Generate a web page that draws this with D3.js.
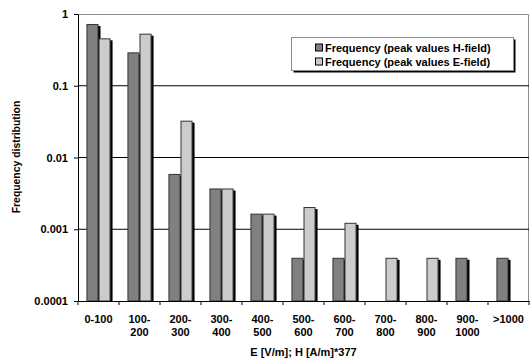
<!DOCTYPE html>
<html>
<head>
<meta charset="utf-8">
<script src="https://cdnjs.cloudflare.com/ajax/libs/d3/7.8.5/d3.min.js"></script>
<style>
  body { margin: 0; background: #fff; }
  text { font-family: "Liberation Sans", Arial, sans-serif; font-weight: bold; fill: #000; }
</style>
</head>
<body>
<div class="svg-container"></div>
<script>
// categories (two-line tick labels)
const categories = ["0-100", "100-200", "200-300", "300-400", "400-500", "500-600",
                    "600-700", "700-800", "800-900", "900-1000", ">1000"];
const hField = [0.726, 0.292, 0.0059, 0.0037, 0.00165, 0.0004, 0.0004, null, null, 0.0004, 0.0004];
const eField = [0.458, 0.532, 0.0326, 0.0037, 0.00165, 0.00204, 0.00123, 0.0004, 0.0004, null, null];
const seriesNames = ["Frequency (peak values H-field)", "Frequency (peak values E-field)"];
const yTicks = [1, 0.1, 0.01, 0.001, 0.0001];
const yTickLabels = ["1", "0.1", "0.01", "0.001", "0.0001"];

const W = 531, H = 358;
const margin = {top: 14, right: 2, bottom: 57, left: 78};
const width = W - margin.left - margin.right;
const height = H - margin.top - margin.bottom;

const svg = d3.select('.svg-container')
    .append('svg')
    .attr('width', W)
    .attr('height', H);

const g = svg.append('g')
    .attr('transform', `translate(${margin.left}, ${margin.top})`);

const x = d3.scaleBand()
    .domain(categories)
    .range([0, width])
    .padding(0);

const x1 = d3.scaleBand()
    .domain(["H", "E"])
    .range([0, x.bandwidth()])
    .paddingInner(0)
    .paddingOuter(0.7);

const y = d3.scaleLog()
    .domain([0.0001, 1])
    .range([height, 0]);

const colors = {H: "#808080", E: "#cccccc"};

// plot border (top/right gray)
g.append("path")
    .attr("d", `M0,0.5H${width - 0.5}V${height}`)
    .attr("fill", "none")
    .attr("stroke", "#8c8c8c");

// gridlines
g.selectAll(".grid")
  .data(yTicks.slice(1, 4))
  .enter().append("line")
    .attr("class", "grid")
    .attr("x1", 0)
    .attr("x2", width)
    .attr("y1", d => y(d))
    .attr("y2", d => y(d))
    .attr("stroke", "#000")
    .attr("stroke-width", 1);

const rows = categories.map((c, i) => [
  {key: "H", cat: c, v: hField[i]},
  {key: "E", cat: c, v: eField[i]}
]).flat().filter(d => d.v != null);

// shadows
g.selectAll(".shadow")
  .data(rows)
  .enter().append("rect")
    .attr("class", "shadow")
    .attr("x", d => x(d.cat) + x1(d.key) + 2)
    .attr("y", d => y(d.v) + 2)
    .attr("width", x1.bandwidth())
    .attr("height", d => height - y(d.v) - 2)
    .attr("fill", "#000");

g.selectAll(".bar")
  .data(rows)
  .enter().append("rect")
    .attr("class", "bar")
    .attr("x", d => x(d.cat) + x1(d.key) + 0.5)
    .attr("y", d => y(d.v) + 0.5)
    .attr("width", x1.bandwidth() - 1)
    .attr("height", d => height - y(d.v) - 0.5)
    .attr("fill", d => colors[d.key])
    .attr("stroke", "#333")
    .attr("stroke-width", 1);

// y axis
const yAxis = g.append("g")
    .call(d3.axisLeft(y).tickValues(yTicks)
      .tickFormat((d, i) => yTickLabels[i])
      .tickSize(4).tickSizeOuter(0).tickPadding(6));
yAxis.select(".domain").attr("stroke", "#000");
yAxis.selectAll("text").style("font-size", "11px");

// x axis
const xAxis = g.append("g")
    .attr("transform", `translate(0,${height})`)
    .call(d3.axisBottom(x).tickSize(0).tickSizeOuter(0).tickPadding(0));
xAxis.select(".domain").attr("stroke", "#000");
xAxis.selectAll(".tick text").remove();
xAxis.selectAll(".tick").each(function(d) {
  const parts = d.indexOf("-") > 0 && d !== "0-100" ? [d.slice(0, d.indexOf("-") + 1), d.slice(d.indexOf("-") + 1)] : [d];
  const t = d3.select(this).append("text")
      .attr("text-anchor", "middle")
      .style("font-size", "11px");
  parts.forEach((p, k) => {
    t.append("tspan").attr("x", 0).attr("y", 21.5 + k * 13).text(p);
  });
});
// tick marks at band edges
xAxis.selectAll(".edge")
  .data(categories.concat(["end"]))
  .enter().append("line")
    .attr("class", "edge")
    .attr("x1", (d, i) => i < categories.length ? x(d) : width)
    .attr("x2", (d, i) => i < categories.length ? x(d) : width)
    .attr("y1", 0)
    .attr("y2", 4)
    .attr("stroke", "#000");

// axis titles
svg.append("text")
    .attr("x", margin.left + width / 2)
    .attr("y", 355.5)
    .attr("text-anchor", "middle")
    .style("font-size", "11px")
    .text("E [V/m]; H [A/m]*377");

svg.append("text")
    .attr("transform", "translate(20,157) rotate(-90)")
    .attr("text-anchor", "middle")
    .style("font-size", "10.4px")
    .text("Frequency distribution");

// legend
const legend = svg.append("g").attr("transform", "translate(291.5,37.5)");
legend.append("rect")
    .attr("x", 2).attr("y", 2).attr("width", 222).attr("height", 33)
    .attr("fill", "#000");
legend.append("rect")
    .attr("width", 222).attr("height", 33)
    .attr("fill", "#fff").attr("stroke", "#8c8c8c");

const li = legend.selectAll(".item")
  .data(["H", "E"])
  .enter().append("g")
    .attr("transform", (d, i) => `translate(0,${i * 14})`);
li.append("rect")
    .attr("x", 24).attr("y", 6.5).attr("width", 7).attr("height", 7)
    .attr("fill", d => colors[d]).attr("stroke", "#000");
li.append("text")
    .attr("x", 33.5).attr("y", 14)
    .style("font-size", "11px")
    .text((d, i) => seriesNames[i]);
</script>
</body>
</html>
